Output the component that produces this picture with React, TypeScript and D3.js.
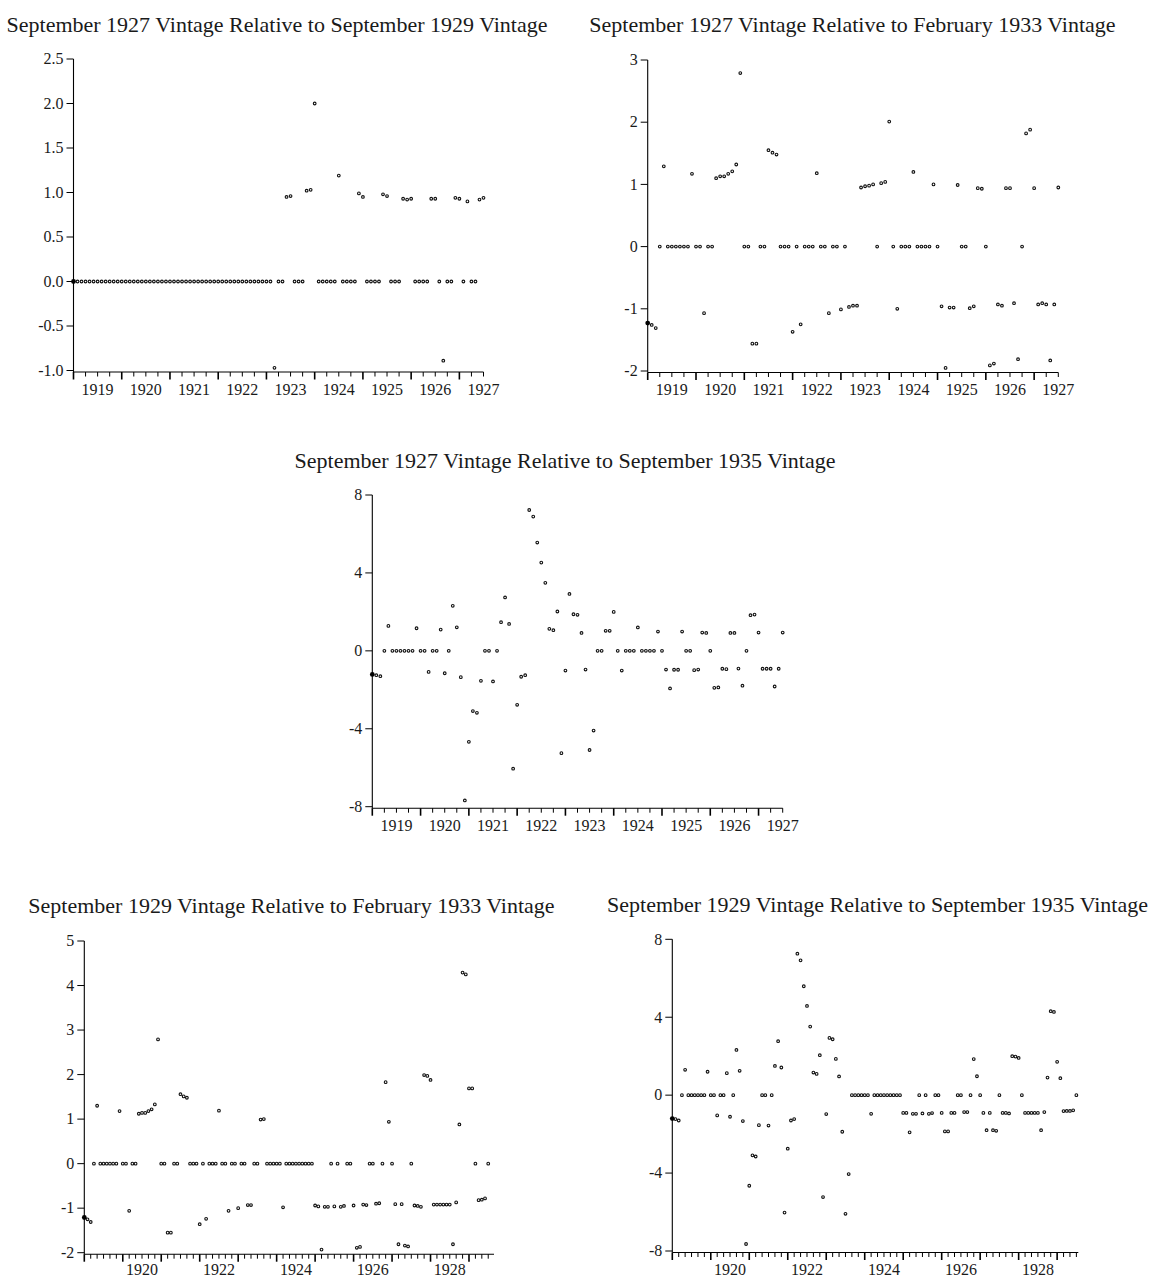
import React from 'react';
import * as d3 from 'd3';

// ---------- DATA (monthly, starting January 1919) ----------
const START_YEAR = 1919;

const titles = [
  'September 1927 Vintage Relative to September 1929 Vintage',
  'September 1927 Vintage Relative to February 1933 Vintage',
  'September 1927 Vintage Relative to September 1935 Vintage',
  'September 1929 Vintage Relative to February 1933 Vintage',
  'September 1929 Vintage Relative to September 1935 Vintage',
];

// Sep 1927 vs Sep 1929 (Jan 1919 - Jul 1927)
const sep27vsSep29 = [
  0, 0, 0, 0, 0, 0, 0, 0, 0, 0, 0, 0,
  0, 0, 0, 0, 0, 0, 0, 0, 0, 0, 0, 0,
  0, 0, 0, 0, 0, 0, 0, 0, 0, 0, 0, 0,
  0, 0, 0, 0, 0, 0, 0, 0, 0, 0, 0, 0,
  0, 0, -0.97, 0, 0, 0.95, 0.96, 0, 0, 0, 1.02, 1.03,
  2.0, 0, 0, 0, 0, 0, 1.19, 0, 0, 0, 0, 0.99,
  0.95, 0, 0, 0, 0, 0.98, 0.96, 0, 0, 0, 0.93, 0.92,
  0.93, 0, 0, 0, 0, 0.93, 0.93, 0, -0.89, 0, 0, 0.94,
  0.93, 0, 0.9, 0, 0, 0.92, 0.94,
];

// Sep 1927 vs Feb 1933
const sep27vsFeb33 = [
  -1.23, -1.26, -1.31, 0, 1.29, 0, 0, 0, 0, 0, 0, 1.17,
  0, 0, -1.07, 0, 0, 1.1, 1.13, 1.13, 1.17, 1.21, 1.32, 2.79,
  0, 0, -1.56, -1.56, 0, 0, 1.55, 1.51, 1.48, 0, 0, 0,
  -1.37, 0, -1.25, 0, 0, 0, 1.18, 0, 0, -1.07, 0, 0,
  -1.01, 0, -0.97, -0.95, -0.95, 0.95, 0.97, 0.98, 1.0, 0, 1.02, 1.04,
  2.01, 0, -1.0, 0, 0, 0, 1.2, 0, 0, 0, 0, 1.0,
  0, -0.96, -1.95, -0.98, -0.98, 0.99, 0, 0, -0.99, -0.96, 0.94, 0.93,
  0, -1.91, -1.88, -0.93, -0.95, 0.94, 0.94, -0.91, -1.81, 0, 1.82, 1.88,
  0.94, -0.93, -0.91, -0.93, -1.83, -0.93, 0.95,
];

// Sep 1927 vs Sep 1935
const sep27vsSep35 = [
  -1.21, -1.25, -1.3, 0, 1.28, 0, 0, 0, 0, 0, 0, 1.16,
  0, 0, -1.08, 0, 0, 1.09, -1.15, 0, 2.31, 1.21, -1.35, -7.68,
  -4.67, -3.09, -3.18, -1.54, 0, 0, -1.57, 0, 1.47, 2.74, 1.38, -6.05,
  -2.77, -1.33, -1.25, 7.23, 6.89, 5.56, 4.53, 3.49, 1.13, 1.06, 2.02, -5.25,
  -1.01, 2.92, 1.88, 1.85, 0.92, -0.96, -5.09, -4.09, 0, 0, 1.03, 1.03,
  2.0, 0, -1.01, 0, 0, 0, 1.2, 0, 0, 0, 0, 0.99,
  0, -0.96, -1.93, -0.97, -0.97, 0.99, 0, 0, -0.99, -0.96, 0.94, 0.92,
  0, -1.9, -1.88, -0.92, -0.94, 0.92, 0.92, -0.91, -1.79, 0, 1.83, 1.86,
  0.94, -0.92, -0.92, -0.92, -1.83, -0.92, 0.94,
];

// Sep 1929 vs Feb 1933 (Jan 1919 - Jul 1929)
const sep29vsFeb33 = [
  -1.21, -1.25, -1.31, 0, 1.3, 0, 0, 0, 0, 0, 0, 1.18,
  0, 0, -1.06, 0, 0, 1.12, 1.14, 1.14, 1.18, 1.22, 1.33, 2.79,
  0, 0, -1.55, -1.55, 0, 0, 1.56, 1.51, 1.48, 0, 0, 0,
  -1.36, 0, -1.24, 0, 0, 0, 1.19, 0, 0, -1.06, 0, 0,
  -1.0, 0, 0, -0.93, -0.93, 0, 0, 0.99, 1.0, 0, 0, 0,
  0, 0, -0.98, 0, 0, 0, 0, 0, 0, 0, 0, 0,
  -0.94, -0.96, -1.93, -0.97, -0.97, 0, -0.96, 0, -0.97, -0.95, 0, 0,
  -0.94, -1.89, -1.87, -0.92, -0.93, 0, 0, -0.9, -0.89, 0, 1.83, 0.94,
  0, -0.91, -1.81, -0.91, -1.84, -1.86, 0, -0.94, -0.95, -0.97, 1.99, 1.97,
  1.88, -0.92, -0.92, -0.92, -0.92, -0.92, -0.92, -1.81, -0.87, 0.88, 4.29, 4.25,
  1.69, 1.69, 0, -0.82, -0.81, -0.78, 0,
];

// Sep 1929 vs Sep 1935
const sep29vsSep35 = [
  -1.2, -1.23, -1.3, 0, 1.3, 0, 0, 0, 0, 0, 0, 1.2,
  0, 0, -1.04, 0, 0, 1.13, -1.11, 0, 2.32, 1.25, -1.33, -7.64,
  -4.65, -3.09, -3.15, -1.54, 0, 0, -1.56, 0, 1.5, 2.77, 1.42, -6.03,
  -2.75, -1.3, -1.23, 7.26, 6.92, 5.59, 4.58, 3.52, 1.16, 1.09, 2.05, -5.23,
  -0.97, 2.94, 2.87, 1.86, 0.96, -1.88, -6.09, -4.05, 0, 0, 0, 0,
  0, 0, -0.96, 0, 0, 0, 0, 0, 0, 0, 0, 0,
  -0.91, -0.91, -1.91, -0.96, -0.96, 0, -0.94, 0, -0.96, -0.92, 0, 0,
  -0.91, -1.86, -1.86, -0.91, -0.91, 0, 0, -0.87, -0.87, 0, 1.85, 0.97,
  0, -0.91, -1.8, -0.91, -1.8, -1.83, 0, -0.91, -0.91, -0.94, 2.0, 1.98,
  1.91, 0, -0.91, -0.91, -0.91, -0.91, -0.91, -1.8, -0.87, 0.9, 4.31, 4.27,
  1.71, 0.87, -0.82, -0.81, -0.81, -0.78, 0,
];

const topYearLabels = [1919, 1920, 1921, 1922, 1923, 1924, 1925, 1926, 1927];
const bottomYearLabels = [1920, 1922, 1924, 1926, 1928];

const yTicksA = [-1, -0.5, 0, 0.5, 1, 1.5, 2, 2.5];
const yTicksB = [-2, -1, 0, 1, 2, 3];
const yTicksC = [-8, -4, 0, 4, 8];
const yTicksD = [-2, -1, 0, 1, 2, 3, 4, 5];
const yTicksE = [-8, -4, 0, 4, 8];

// ---------- LAYOUT ----------
const FONT = '"Liberation Serif", "Times New Roman", serif';
const TEXT = '#1a1a1a';

type PanelCfg = {
  title: string;
  values: number[];
  yTicks: number[];
  yFmt: (v: number) => string;
  yDomain: [number, number];
  xMax: number;
  lastTick: number;
  minorStep: number;
  years: number[];
  left: number;
  right: number;
  top: number;
  bottom: number;
  titleX: number;
  titleY: number;
  labelY: number;
};

const fmt1 = (v: number) => v.toFixed(1);
const fmt0 = (v: number) => String(v);

const panels: PanelCfg[] = [
  {
    title: titles[0], values: sep27vsSep29, yTicks: yTicksA, yFmt: fmt1, yDomain: [-1, 2.5],
    xMax: 102, lastTick: 102, minorStep: 3, years: topYearLabels,
    left: 73.5, right: 483.5, top: 59, bottom: 370.5, titleX: 277, titleY: 32, labelY: 395,
  },
  {
    title: titles[1], values: sep27vsFeb33, yTicks: yTicksB, yFmt: fmt0, yDomain: [-2, 3],
    xMax: 102, lastTick: 102, minorStep: 3, years: topYearLabels,
    left: 647.7, right: 1058.3, top: 60, bottom: 371, titleX: 852.5, titleY: 32, labelY: 395,
  },
  {
    title: titles[2], values: sep27vsSep35, yTicks: yTicksC, yFmt: fmt0, yDomain: [-8, 8],
    xMax: 102, lastTick: 102, minorStep: 3, years: topYearLabels,
    left: 372.3, right: 782.7, top: 495, bottom: 806.7, titleX: 565, titleY: 468, labelY: 831,
  },
  {
    title: titles[3], values: sep29vsFeb33, yTicks: yTicksD, yFmt: fmt0, yDomain: [-2, 5],
    xMax: 127.8, lastTick: 126, minorStep: 2, years: bottomYearLabels,
    left: 84.3, right: 494, top: 941, bottom: 1252.7, titleX: 291.5, titleY: 913, labelY: 1275,
  },
  {
    title: titles[4], values: sep29vsSep35, yTicks: yTicksE, yFmt: fmt0, yDomain: [-8, 8],
    xMax: 126.6, lastTick: 126, minorStep: 2, years: bottomYearLabels,
    left: 672.3, right: 1078.3, top: 939.3, bottom: 1251, titleX: 877.5, titleY: 912, labelY: 1275,
  },
];

function Panel({ cfg }: { cfg: PanelCfg }) {
  const x = d3.scaleLinear().domain([0, cfg.xMax]).range([cfg.left, cfg.right]);
  const y = d3.scaleLinear().domain(cfg.yDomain).range([cfg.bottom, cfg.top]);
  const axisY = cfg.bottom + 1.5;
  const xTicks = d3.range(0, cfg.lastTick + 0.001, cfg.minorStep);
  return (
    <g>
      <text x={cfg.titleX} y={cfg.titleY} textAnchor="middle" fontFamily={FONT} fontSize={22} fill={TEXT}>
        {cfg.title}
      </text>
      {/* y axis */}
      <line x1={cfg.left} x2={cfg.left} y1={y(cfg.yDomain[1])} y2={axisY} stroke="#000" strokeWidth={1.1} />
      {cfg.yTicks.map((t) => (
        <g key={'y' + t}>
          <line x1={cfg.left - 7} x2={cfg.left} y1={y(t)} y2={y(t)} stroke="#000" strokeWidth={1} />
          <text x={cfg.left - 10} y={y(t)} dy="0.33em" textAnchor="end" fontFamily={FONT} fontSize={16} fill={TEXT}>
            {cfg.yFmt(t)}
          </text>
        </g>
      ))}
      {/* x axis */}
      <line x1={cfg.left} x2={x(cfg.xMax)} y1={axisY} y2={axisY} stroke="#000" strokeWidth={1.1} />
      {xTicks.map((m) => (
        <line key={'x' + m} x1={x(m)} x2={x(m)} y1={axisY} y2={axisY + (m % 12 === 0 ? 7.5 : 4.5)} stroke="#000" strokeWidth={m % 12 === 0 ? 1.6 : 1} />
      ))}
      {cfg.years.map((yr) => (
        <text key={'l' + yr} x={x((yr - START_YEAR) * 12 + 6)} y={cfg.labelY} textAnchor="middle" fontFamily={FONT} fontSize={16} fill={TEXT}>
          {yr}
        </text>
      ))}
      {/* points */}
      {cfg.values.map((v, i) => (
        i === 0 ? (
          <circle key={'p' + i} cx={x(i)} cy={y(v)} r={2.4} fill="#000" />
        ) : (
          <circle key={'p' + i} cx={x(i)} cy={y(v)} r={1.35} fill="none" stroke="#111" strokeWidth={1.1} />
        )
      ))}
    </g>
  );
}

export default function App() {
  return (
    <svg
      width={1149}
      height={1279}
      viewBox="0 0 1149 1279"
      style={{ position: 'absolute', left: 0, top: 0, background: '#fff' }}
    >
      <rect x={0} y={0} width={1149} height={1279} fill="#fff" />
      {panels.map((p, i) => (
        <Panel key={i} cfg={p} />
      ))}
    </svg>
  );
}
